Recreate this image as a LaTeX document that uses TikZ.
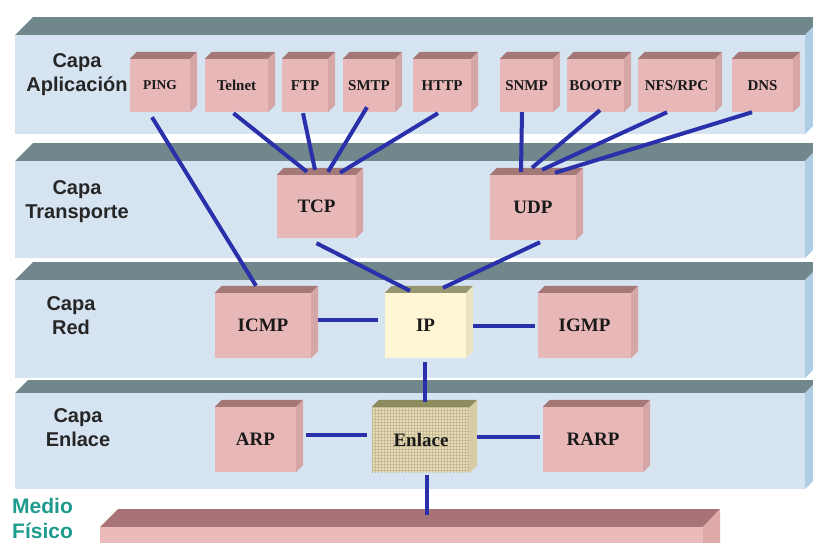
\documentclass[tikz,border=0pt]{standalone}
\usepackage{fontspec}
\setmainfont{Liberation Serif}
\setsansfont{Liberation Sans}
\usetikzlibrary{calc,patterns}
\definecolor{bandC}{RGB}{112,136,140}
\definecolor{frontC}{RGB}{214,228,242}
\definecolor{sideC}{RGB}{175,205,228}
\definecolor{pinkF}{RGB}{232,184,184}
\definecolor{pinkT}{RGB}{165,120,120}
\definecolor{pinkS}{RGB}{214,165,165}
\definecolor{ipF}{RGB}{255,246,214}
\definecolor{ipT}{RGB}{150,150,115}
\definecolor{ipS}{RGB}{236,228,192}
\definecolor{enF}{RGB}{232,222,182}
\definecolor{enG}{RGB}{200,186,150}
\definecolor{enT}{RGB}{140,140,95}
\definecolor{enS}{RGB}{215,205,165}
\definecolor{physT}{RGB}{168,115,118}
\definecolor{physF}{RGB}{235,186,186}
\definecolor{physS}{RGB}{222,170,170}
\definecolor{lineC}{RGB}{42,48,170}
\definecolor{tealC}{RGB}{30,155,140}
\newcommand\cubefaces[4]{%
  \fill[#2] (#1.north west) -- ++(#4,-#4) -- ([shift={(#4,-#4)}]#1.north east) -- (#1.north east) -- cycle;
  \fill[#3] (#1.north east) -- ++(#4,-#4) -- ([shift={(#4,-#4)}]#1.south east) -- (#1.south east) -- cycle;
}
\newcommand\layerslab[4]{% top, band bottom, front bottom, depth
  \fill[bandC] (15,#2) -- (15+#4,#1) -- (805+#4,#1) -- (805,#2) -- cycle;
  \fill[frontC] (15,#2) rectangle (805,#3);
  \fill[sideC] (805,#2) -- (805+#4,#1) -- (805+#4,#3-#4) -- (805,#3) -- cycle;
}
\tikzset{
  appbox/.style={inner sep=0pt, minimum height=53pt, fill=pinkF, text=black!90,
    font=\fontsize{15}{15}\bfseries\selectfont},
  lowbox/.style={inner sep=0pt, minimum height=65pt, fill=pinkF, text=black!90,
    font=\fontsize{19}{19}\bfseries\selectfont},
  layerlabel/.style={align=center, text=black!85,
    font=\sffamily\bfseries\fontsize{20}{24}\selectfont},
  conn/.style={line width=4pt, draw=lineC}
}
\begin{document}
\begin{tikzpicture}[x=1pt,y=-1pt]
\useasboundingbox (0,0) rectangle (813,542);
\fill[white] (0,0) rectangle (813,542);
\clip (0,0) rectangle (813,542);
% layer slabs
\layerslab{17}{35}{134}{18}
\layerslab{143}{161}{258}{18}
\layerslab{262}{280}{378}{18}
\layerslab{380}{393}{489}{13}
% physical medium
\fill[physT] (100,527) -- (118,509) -- (720,509) -- (703,527) -- cycle;
\fill[physF] (100,527) rectangle (703,545);
\fill[physS] (703,527) -- (720,509) -- (720,545) -- (703,545) -- cycle;
\coordinate (medio) at (427,515);
% layer labels
\node[layerlabel] (lapp) at (77,75) {Capa\\Aplicación};
\node[layerlabel] (ltra) at (77,202) {Capa\\Transporte};
\node[layerlabel] (lred) at (71,316) {Capa\\Red};
\node[layerlabel] (lenl) at (78,428) {Capa\\Enlace};
\node[align=left, anchor=west, inner sep=0pt, text=tealC, font=\sffamily\bfseries\fontsize{21}{25}\selectfont] (lfis) at (12,518) {Medio\\Físico};
% application boxes
\node[appbox, minimum width=60pt, font=\fontsize{13.5}{13.5}\bfseries\selectfont] (ping) at (160,85.5) {PING};
\node[appbox, minimum width=63pt] (telnet) at (236.5,85.5) {Telnet};
\node[appbox, minimum width=46pt] (ftp) at (305,85.5) {FTP};
\node[appbox, minimum width=52pt] (smtp) at (369,85.5) {SMTP};
\node[appbox, minimum width=58pt] (http) at (442,85.5) {HTTP};
\node[appbox, minimum width=53pt] (snmp) at (526.5,85.5) {SNMP};
\node[appbox, minimum width=57pt] (bootp) at (595.5,85.5) {BOOTP};
\node[appbox, minimum width=77pt] (nfs) at (676.5,85.5) {NFS/RPC};
\node[appbox, minimum width=61pt] (dns) at (762.5,85.5) {DNS};
% lower boxes
\node[lowbox, minimum width=79pt, minimum height=63pt] (tcp) at (316.5,206.5) {TCP};
\node[lowbox, minimum width=86pt] (udp) at (533,207.5) {UDP};
\node[lowbox, minimum width=96pt] (icmp) at (263,325.5) {ICMP};
\node[lowbox, minimum width=81pt, fill=ipF] (ip) at (425.5,325.5) {IP};
\node[lowbox, minimum width=93pt] (igmp) at (584.5,325.5) {IGMP};
\node[lowbox, minimum width=81pt] (arp) at (255.5,439.5) {ARP};
\node[lowbox, minimum width=98pt, fill=none, preaction={fill=enF}, pattern=grid, pattern color=enG] (enlace) at (421,439.5) {};
\node[lowbox, fill=none] (enlacetxt) at (enlace.center) {Enlace};
\node[lowbox, minimum width=100pt] (rarp) at (593,439.5) {RARP};
% cube faces
\foreach \n in {ping,telnet,ftp,smtp,http,snmp,bootp,nfs,dns,tcp,udp,icmp,igmp,arp,rarp}{
  \cubefaces{\n}{pinkT}{pinkS}{7}
}
\cubefaces{ip}{ipT}{ipS}{7}
\cubefaces{enlace}{enT}{enS}{7}
% connectors
\draw[conn] ([xshift=-8pt,yshift=-5pt]ping.south) -- ([xshift=-7pt,yshift=7pt]icmp.north);
\draw[conn] ([xshift=-3pt,yshift=-1pt]telnet.south) -- ([xshift=-9.5pt,yshift=3pt]tcp.north);
\draw[conn] ([xshift=-2pt,yshift=-1pt]ftp.south) -- ([xshift=-1.5pt,yshift=5pt]tcp.north);
\draw[conn] ([xshift=-2pt,yshift=5pt]smtp.south) -- ([xshift=11.5pt,yshift=3pt]tcp.north);
\draw[conn] ([xshift=-4pt,yshift=-1pt]http.south) -- ([xshift=23.5pt,yshift=2pt]tcp.north);
\draw[conn] ([xshift=-4.5pt]snmp.south) -- ([xshift=-12pt,yshift=3pt]udp.north);
\draw[conn] ([xshift=4.5pt,yshift=2pt]bootp.south) -- ([xshift=-1pt,yshift=7pt]udp.north);
\draw[conn] ([xshift=-9.5pt]nfs.south) -- ([xshift=9pt,yshift=5pt]udp.north);
\draw[conn] ([xshift=-10.5pt]dns.south) -- ([xshift=22pt,yshift=2pt]udp.north);
\draw[conn] ([yshift=-5pt]tcp.south) -- ([xshift=-15.5pt,yshift=2pt]ip.north);
\draw[conn] ([xshift=7pt,yshift=-2pt]udp.south) -- ([xshift=17.5pt,yshift=5pt]ip.north);
\draw[conn] ([xshift=7pt,yshift=6pt]icmp.east) -- ([xshift=-7pt,yshift=6pt]ip.west);
\draw[conn] ([xshift=7pt]ip.east) -- ([xshift=-3pt]igmp.west);
\draw[conn] ([xshift=-0.5pt,yshift=-4pt]ip.south) -- ([xshift=4pt,yshift=5pt]enlace.north);
\draw[conn] ([xshift=10pt,yshift=4.5pt]arp.east) -- ([xshift=-5pt,yshift=4.5pt]enlace.west);
\draw[conn] ([xshift=7pt,yshift=2.5pt]enlace.east) -- ([xshift=-3pt,yshift=2.5pt]rarp.west);
\draw[conn] ([xshift=6pt,yshift=-3pt]enlace.south) -- (medio);
\end{tikzpicture}
\end{document}
